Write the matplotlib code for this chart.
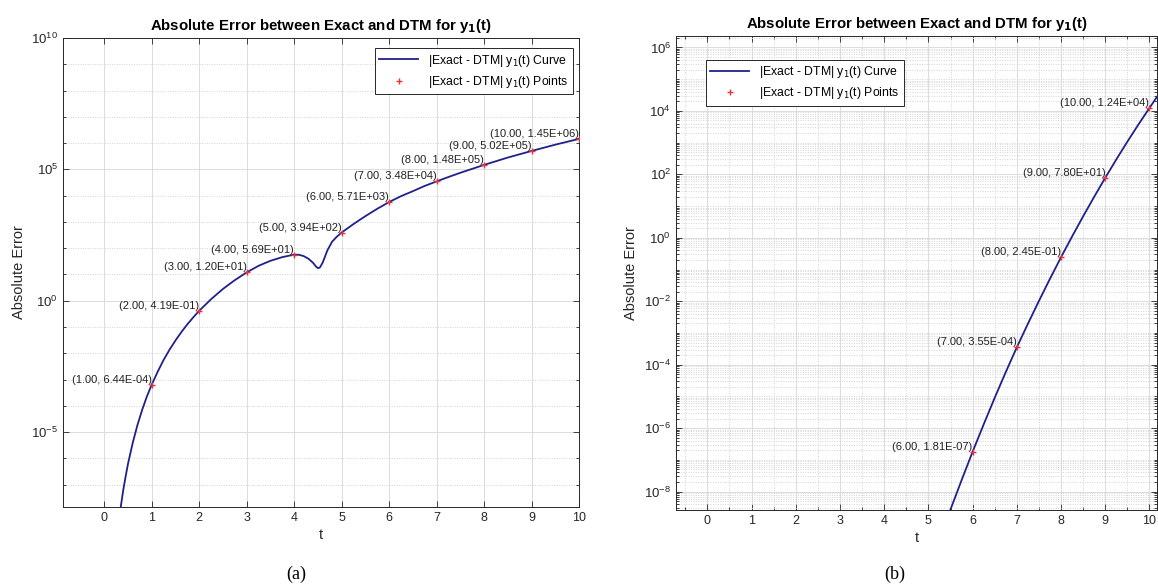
import numpy as np
import matplotlib.pyplot as plt
from matplotlib.ticker import LogLocator, NullFormatter, MultipleLocator

plt.rcParams['font.family'] = ['Liberation Sans', 'DejaVu Sans']

# (a) sampled points, labelled on the chart
t_pts_a = [1, 2, 3, 4, 5, 6, 7, 8, 9, 10]
err_pts_a = [6.44e-4, 4.19e-1, 1.20e1, 5.69e1, 3.94e2, 5.71e3, 3.48e4, 1.48e5, 5.02e5, 1.45e6]

# (a) curve (t, log10 error)
t_curve_a = [0.30, 0.35, 0.40, 0.45, 0.50, 0.60, 0.70, 0.80, 0.90, 1.00, 1.125, 1.25, 1.375,
             1.50, 1.625, 1.75, 1.875, 2.00, 2.25, 2.50, 2.75, 3.00, 3.25, 3.50, 3.75, 4.00,
             4.10, 4.20, 4.30, 4.40, 4.46, 4.50, 4.54, 4.60, 4.70, 4.80, 4.90, 5.00, 5.25,
             5.50, 5.75, 6.00, 6.25, 6.50, 6.75, 7.00, 7.25, 7.50, 7.75, 8.00, 8.25, 8.50,
             8.75, 9.00, 9.25, 9.50, 9.75, 10.00]
log_curve_a = [-8.5, -7.8, -7.2, -6.68, -6.2, -5.4, -4.72, -4.14, -3.63, -3.19, -2.7, -2.25, -1.86,
               -1.51, -1.19, -0.895, -0.63, -0.38, 0.06, 0.45, 0.785, 1.08, 1.33, 1.52, 1.66, 1.755,
               1.75, 1.70, 1.60, 1.44, 1.30, 1.24, 1.26, 1.45, 1.92, 2.25, 2.44, 2.595, 2.92,
               3.22, 3.50, 3.757, 3.98, 4.17, 4.37, 4.542, 4.71, 4.87, 5.02, 5.170, 5.31, 5.45,
               5.575, 5.701, 5.82, 5.94, 6.05, 6.161]

# (b) sampled points
t_pts_b = [6, 7, 8, 9, 10]
err_pts_b = [1.81e-7, 3.55e-4, 2.45e-1, 7.80e1, 1.24e4]

# (b) curve
t_curve_b = [5.40, 5.50, 5.75, 6.00, 6.25, 6.50, 6.75, 7.00, 7.25, 7.50, 7.75, 8.00, 8.25,
             8.50, 8.75, 9.00, 9.25, 9.50, 9.75, 10.00, 10.25]
log_curve_b = [-8.93, -8.56, -7.64, -6.742, -5.88, -5.04, -4.23, -3.450, -2.71, -1.99, -1.29,
               -0.611, 0.043, 0.678, 1.294, 1.892, 2.47, 3.03, 3.571, 4.093, 4.61]

title = 'Absolute Error between Exact and DTM for y$_\\mathbf{1}$(t)'
lbl_curve = '|Exact - DTM| y$_1$(t) Curve'
lbl_pts = '|Exact - DTM| y$_1$(t) Points'

W, H = 1158, 584
fig = plt.figure(figsize=(W / 100, H / 100), dpi=100)

line_c = '#20208c'
pt_c = '#e8323c'


def panel(rect, tc, lc, tp, ep, xlim, ylim, major_y, minor_subs, legend_loc, legend_anchor, xminor):
    ax = fig.add_axes(rect)
    ax.set_yscale('log')
    ax.plot(tc, 10.0 ** np.array(lc), color=line_c, lw=1.3, label=lbl_curve, zorder=3)
    ax.plot(tp, ep, ls='none', marker='+', ms=5, mew=1.0, color=pt_c, label=lbl_pts, zorder=4)
    for x, v in zip(tp, ep):
        ax.text(x, v, f'({x:.2f}, {v:.2E})', ha='right', va='bottom', fontsize=8, color='#222222', zorder=5)
    ax.set_xlim(*xlim)
    ax.set_ylim(*ylim)
    ax.set_xticks(range(0, 11))
    ax.set_yticks(major_y)
    ax.yaxis.set_minor_locator(LogLocator(base=10, subs=minor_subs, numticks=60))
    ax.yaxis.set_minor_formatter(NullFormatter())
    if xminor:
        ax.xaxis.set_minor_locator(MultipleLocator(0.5))
    ax.grid(True, which='major', color='#dcdcdc', lw=0.7, ls='-')
    ax.grid(True, which='minor', axis='y', color='#d4d4d4', lw=0.7, ls=(0, (1, 1.5)))
    if xminor:
        ax.grid(True, which='minor', axis='x', color='#d4d4d4', lw=0.7, ls=(0, (1, 1.5)))
    ax.set_axisbelow(True)
    ax.tick_params(which='both', direction='in', top=True, right=True, colors='#262626',
                   labelcolor='#262626', length=4, width=0.6)
    ax.tick_params(axis='x', labelsize=9)
    ax.tick_params(axis='y', labelsize=9.5)
    ax.tick_params(which='minor', length=2)
    for s in ax.spines.values():
        s.set_color('#262626')
        s.set_linewidth(0.7)
    ax.set_title(title, fontsize=10.8, fontweight='bold', pad=6)
    ax.set_xlabel('t', fontsize=10.5, color='#262626', labelpad=3)
    ax.set_ylabel('Absolute Error', fontsize=10.5, color='#262626')
    leg = ax.legend(loc=legend_loc, bbox_to_anchor=legend_anchor, borderaxespad=0, fontsize=8.8,
                    handlelength=3.2, fancybox=False, framealpha=1, edgecolor='#262626',
                    borderpad=0.35, labelspacing=0.45)
    leg.get_frame().set_linewidth(0.7)
    return ax


panel([63 / W, 1 - 507 / H, 516 / W, 469 / H], t_curve_a, log_curve_a, t_pts_a, err_pts_a,
      (-0.87, 10), (10 ** -7.85, 1e10), [1e-5, 1, 1e5, 1e10], (1.0,),
      'upper right', (0.988, 0.978), False)

panel([676 / W, 1 - 510 / H, 481 / W, 474 / H], t_curve_b, log_curve_b, t_pts_b, err_pts_b,
      (-0.71, 10.17), (10 ** -8.58, 10 ** 6.36), [1e-8, 1e-6, 1e-4, 1e-2, 1, 1e2, 1e4, 1e6],
      np.arange(1, 10), 'upper left', (0.062, 0.95), True)

fig.text(296 / W, 1 - 574 / H, '(a)', ha='center', va='center', fontsize=13, family='Liberation Serif')
fig.text(895 / W, 1 - 574 / H, '(b)', ha='center', va='center', fontsize=13, family='Liberation Serif')

fig.savefig('out.png', dpi=100)
